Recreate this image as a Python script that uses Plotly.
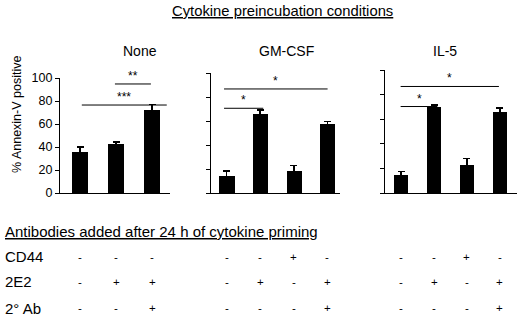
import plotly.graph_objects as go

W, H = 520, 317

# ---------------- data ----------------
panel_titles = ["None", "GM-CSF", "IL-5"]
cats_none = ["ctrl", "2E2", "2E2 + 2° Ab"]
cats_gm = ["ctrl", "2E2", "CD44", "2E2 + 2° Ab"]
cats_il5 = ["ctrl", "2E2", "CD44", "2E2 + 2° Ab"]

vals_none = [36, 42.5, 72]
err_none = [4, 2, 5]
vals_gm = [14, 66, 18, 57.5]
err_gm = [4.5, 3, 5, 2]
vals_il5 = [15, 70, 22.5, 66]
err_il5 = [2.5, 1.5, 5.5, 3]

# significance comparisons: (x_start, x_end, level, label)
sig_none = [(0.05, 2.41, 76.5, "***"), (0.97, 1.97, 94.8, "**")]
sig_gm = [(-0.08, 3.01, 86.7, "*"), (-0.08, 1.09, 70.6, "*")]
sig_il5 = [(-0.015, 2.97, 86.6, "*"), (-0.015, 1.1, 70.3, "*")]

row_labels = ["CD44", "2E2", "2° Ab"]
signs_none = [["-", "-", "-"], ["-", "+", "+"], ["-", "-", "+"]]
signs_gm = [["-", "-", "+", "-"], ["-", "+", "-", "+"], ["-", "-", "-", "+"]]
signs_il5 = [["-", "-", "+", "-"], ["-", "+", "-", "+"], ["-", "-", "-", "+"]]

yticks = [0, 20, 40, 60, 80, 100]

# ---------------- layout helpers ----------------
def px(x):
    return x / W

def py(y):
    return 1 - y / H

FONT = "Liberation Sans, Arial, sans-serif"

panels = [
    dict(cats=cats_none, vals=vals_none, err=err_none, sig=sig_none, signs=signs_none,
         xdom=(60, 170), ytop=78, xr=[-0.556, 2.5], bw=0.46, labels=True, title_x=140),
    dict(cats=cats_gm, vals=vals_gm, err=err_gm, sig=sig_gm, signs=signs_gm,
         xdom=(210.7, 340), ytop=73, xr=[-0.478, 3.38], bw=0.45, labels=False, title_x=286.7),
    dict(cats=cats_il5, vals=vals_il5, err=err_il5, sig=sig_il5, signs=signs_il5,
         xdom=(385, 516.7), ytop=70, xr=[-0.49, 3.51], bw=0.42, labels=False, title_x=445),
]
Y0 = 193

fig = go.Figure()
annotations = []
shapes = []
row_y = [256.7, 281.7, 308.3]


def txt(x, y, text, size, xanchor="center", **kw):
    return dict(xref="paper", yref="paper", x=x, y=y, text=text, showarrow=False,
                xanchor=xanchor, yanchor="middle",
                font=dict(family=FONT, size=size, color="black"), **kw)


for i, p in enumerate(panels):
    n = "" if i == 0 else str(i + 1)
    xa, ya = "x" + n, "y" + n
    fig.add_trace(go.Bar(
        x=p["cats"], y=p["vals"], xaxis=xa, yaxis=ya,
        marker=dict(color="black", line=dict(width=0)), width=p["bw"],
        error_y=dict(type="data", array=p["err"], color="black", thickness=1.5, width=3.5),
        showlegend=False, hoverinfo="skip",
    ))
    fig.layout["xaxis" + n] = dict(
        domain=[px(p["xdom"][0]), px(p["xdom"][1])], anchor=ya,
        type="category", range=p["xr"], showticklabels=False, ticks="",
        showline=True, linecolor="black", linewidth=1.2, showgrid=False, zeroline=False,
    )
    fig.layout["yaxis" + n] = dict(
        domain=[py(Y0), py(p["ytop"])], anchor=xa, range=[0, 100],
        tickvals=yticks, showticklabels=p["labels"], ticks="outside", ticklen=4,
        tickcolor="black", tickwidth=1, showline=True, linecolor="black", linewidth=1.2,
        showgrid=False, zeroline=False,
        tickfont=dict(family=FONT, size=12.5, color="black"),
    )
    for (x0, x1, lev, lab) in p["sig"]:
        shapes.append(dict(type="line", xref=xa, yref=ya, x0=x0, x1=x1, y0=lev, y1=lev,
                           line=dict(color="black", width=1)))
        annotations.append(dict(xref=xa, yref=ya, x=(x0 + x1) / 2, y=lev, text=lab,
                                showarrow=False, xanchor="center", yanchor="bottom", yshift=-1,
                                font=dict(family=FONT, size=12, color="black")))
    annotations.append(txt(px(p["title_x"]), py(51), panel_titles[i], 14))
    for r, row in enumerate(p["signs"]):
        for c, s in enumerate(row):
            annotations.append(dict(xref=xa, yref="paper", x=c, y=py(row_y[r]), text=s,
                                    showarrow=False, xanchor="center", yanchor="middle",
                                    font=dict(family=FONT, size=11.5, color="black")))

for r, lab in enumerate(row_labels):
    annotations.append(txt(px(3), py(row_y[r]), lab, 15, xanchor="left"))

annotations.append(txt(px(282), py(11), "<u>Cytokine preincubation conditions</u>", 14.8))
annotations.append(txt(px(3), py(231.5), "<u>Antibodies added after 24 h of cytokine priming</u>",
                       15, xanchor="left"))
annotations.append(txt(px(17), py(115), "% Annexin-V positive", 12.5, textangle=-90))

fig.update_layout(
    width=W, height=H, margin=dict(l=0, r=0, t=0, b=0, autoexpand=False),
    paper_bgcolor="white", plot_bgcolor="white",
    annotations=annotations, shapes=shapes, bargap=0, hovermode=False,
)

fig.write_html("out.html", config={"displayModeBar": False},
               post_script="document.body.style.margin='0px';")
